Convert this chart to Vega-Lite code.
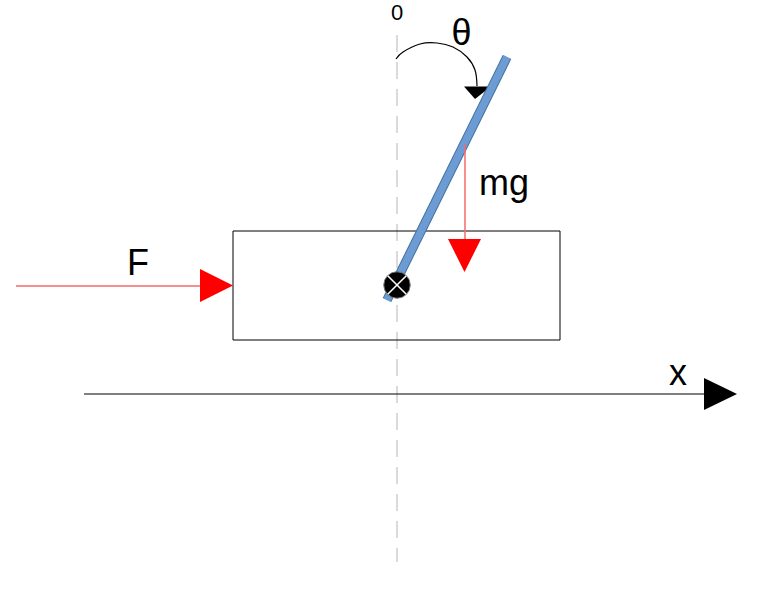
{
  "$schema": "https://vega.github.io/schema/vega-lite/v6.json",
  "description": "Inverted pendulum on a cart",
  "width": 764,
  "height": 592,
  "padding": 0,
  "autosize": {"type": "none"},
  "background": "white",
  "config": {"view": {"stroke": null}},
  "datasets": {
    "axis0": [{"x": 397, "y": 35, "y2": 562}],
    "cart": [{"x": 233, "x2": 560, "y": 231, "y2": 340}],
    "forceLine": [{"x": 16, "x2": 200, "y": 286}],
    "forceHead": [{"x": 200, "y": 269, "y2": 302}, {"x": 233, "y": 285.5, "y2": 285.5}],
    "xLine": [{"x": 84, "x2": 704, "y": 394}],
    "xHead": [{"x": 704, "y": 378, "y2": 410}, {"x": 737, "y": 394, "y2": 394}],
    "rod": [{"x": 387, "y": 300, "x2": 507, "y2": 57}],
    "mgLine": [{"x": 465, "y": 144, "y2": 239}],
    "mgHead": [{"y": 239, "x": 448, "x2": 481}, {"y": 272, "x": 464.5, "x2": 464.5}],
    "pivot": [{"x": 397, "y": 285}],
    "arc": [
      {"o": 1, "x": 396, "y": 59},
      {"o": 2, "x": 403, "y": 52},
      {"o": 3, "x": 420, "y": 44},
      {"o": 4, "x": 437, "y": 43},
      {"o": 5, "x": 453, "y": 47},
      {"o": 6, "x": 467, "y": 57},
      {"o": 7, "x": 475, "y": 70},
      {"o": 8, "x": 477, "y": 86}
    ],
    "arcHead": [{"y": 86.5, "x": 464, "x2": 491}, {"y": 99, "x": 475, "x2": 475}],
    "zeroLabel": [{"x": 397, "y": 20, "label": "0"}],
    "thetaLabel": [{"x": 461.5, "y": 45, "label": "θ"}],
    "bigLabels": [
      {"x": 504, "y": 195, "label": "mg"},
      {"x": 138, "y": 275, "label": "F"},
      {"x": 678, "y": 385, "label": "x"}
    ]
  },
  "encoding": {
    "x": {"field": "x", "type": "quantitative", "scale": {"domain": [0, 764], "nice": false, "zero": false}, "axis": null},
    "y": {"field": "y", "type": "quantitative", "scale": {"domain": [0, 592], "nice": false, "zero": false, "reverse": true}, "axis": null}
  },
  "layer": [
    {
      "data": {"name": "axis0"},
      "mark": {"type": "rule", "color": "#dadada", "strokeWidth": 2, "strokeDash": [17, 10]},
      "encoding": {"y2": {"field": "y2"}}
    },
    {
      "data": {"name": "cart"},
      "mark": {"type": "rect", "fill": null, "stroke": "black", "strokeWidth": 1},
      "encoding": {"x2": {"field": "x2"}, "y2": {"field": "y2"}}
    },
    {
      "data": {"name": "forceLine"},
      "mark": {"type": "rule", "color": "#f46a6a", "strokeWidth": 1.5},
      "encoding": {"x2": {"field": "x2"}}
    },
    {
      "data": {"name": "forceHead"},
      "mark": {"type": "area", "orient": "vertical", "color": "#ff0000"},
      "encoding": {"y2": {"field": "y2"}}
    },
    {
      "data": {"name": "xLine"},
      "mark": {"type": "rule", "color": "black", "strokeWidth": 1},
      "encoding": {"x2": {"field": "x2"}}
    },
    {
      "data": {"name": "xHead"},
      "mark": {"type": "area", "orient": "vertical", "color": "black"},
      "encoding": {"y2": {"field": "y2"}}
    },
    {
      "data": {"name": "arc"},
      "mark": {"type": "line", "color": "black", "strokeWidth": 1.2, "interpolate": "cardinal"},
      "encoding": {"order": {"field": "o", "type": "quantitative"}}
    },
    {
      "data": {"name": "arcHead"},
      "mark": {"type": "area", "orient": "horizontal", "color": "black"},
      "encoding": {"x2": {"field": "x2"}}
    },
    {
      "data": {"name": "rod"},
      "mark": {"type": "rule", "color": "#41719c", "strokeWidth": 9.5},
      "encoding": {"x2": {"field": "x2"}, "y2": {"field": "y2"}}
    },
    {
      "data": {"name": "rod"},
      "mark": {"type": "rule", "color": "#6d9bd3", "strokeWidth": 7.5},
      "encoding": {"x2": {"field": "x2"}, "y2": {"field": "y2"}}
    },
    {
      "data": {"name": "mgLine"},
      "mark": {"type": "rule", "color": "#f46a6a", "strokeWidth": 1.5},
      "encoding": {"y2": {"field": "y2"}}
    },
    {
      "data": {"name": "mgHead"},
      "mark": {"type": "area", "orient": "horizontal", "color": "#ff0000"},
      "encoding": {"x2": {"field": "x2"}}
    },
    {
      "data": {"name": "pivot"},
      "mark": {"type": "point", "shape": "circle", "size": 700, "filled": true, "fill": "black", "stroke": "#777777", "strokeWidth": 1, "opacity": 1},
      "encoding": {}
    },
    {
      "data": {"name": "pivot"},
      "mark": {"type": "point", "shape": "M-0.7,-0.7L0.7,0.7M-0.7,0.7L0.7,-0.7", "size": 700, "filled": false, "stroke": "white", "strokeWidth": 1.5, "opacity": 1},
      "encoding": {}
    },
    {
      "data": {"name": "zeroLabel"},
      "mark": {"type": "text", "font": "Liberation Sans", "fontSize": 22, "align": "center", "baseline": "alphabetic", "color": "black"},
      "encoding": {"text": {"field": "label"}}
    },
    {
      "data": {"name": "thetaLabel"},
      "mark": {"type": "text", "font": "Liberation Sans", "fontSize": 36, "align": "center", "baseline": "alphabetic", "color": "black"},
      "encoding": {"text": {"field": "label"}}
    },
    {
      "data": {"name": "bigLabels"},
      "mark": {"type": "text", "font": "Liberation Sans", "fontSize": 36, "align": "center", "baseline": "alphabetic", "color": "black"},
      "encoding": {"text": {"field": "label"}}
    }
  ]
}
